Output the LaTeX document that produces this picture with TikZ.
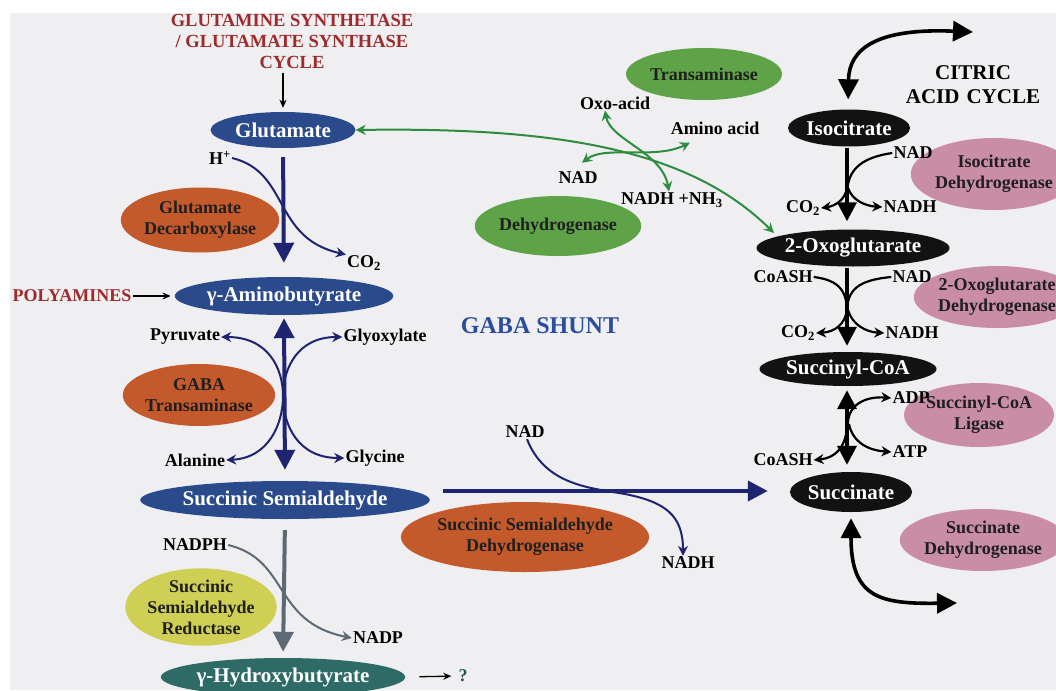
\documentclass[tikz,border=0pt]{standalone}
\usepackage{fontspec}
\setmainfont{Liberation Serif}
\usetikzlibrary{arrows.meta,positioning,shapes.geometric}

\definecolor{bgGray}{HTML}{EFEEF1}
\definecolor{metBlue}{HTML}{2A4A8C}
\definecolor{navyLine}{HTML}{1E2470}
\definecolor{enzOrange}{HTML}{C45A2C}
\definecolor{enzGreen}{HTML}{5EA348}
\definecolor{lineGreen}{HTML}{2E8C40}
\definecolor{enzPink}{HTML}{C98DA5}
\definecolor{enzYellow}{HTML}{CFCF55}
\definecolor{ghbTeal}{HTML}{2F6B66}
\definecolor{slateLine}{HTML}{5D6A76}
\definecolor{titleRed}{HTML}{9E2A2B}
\definecolor{shuntBlue}{HTML}{2A4D9C}

\tikzset{
  met/.style={ellipse,inner sep=0pt,fill=metBlue,text=white,font=\fontsize{21}{23}\selectfont\bfseries},
  tca/.style={met,fill=black!93},
  enz/.style={ellipse,inner sep=0pt,align=center,text=black!88,font=\fontsize{18}{21}\selectfont\bfseries},
  lbl/.style={font=\fontsize{18}{20}\selectfont\bfseries,inner sep=1pt},
  bignavy/.style={draw=navyLine,line width=4pt,-{Triangle[length=20pt,width=20pt]}},
  thinnavy/.style={draw=navyLine,line width=2pt,-{Stealth[length=10pt,width=10pt]}},
  bigblack/.style={draw=black,line width=3.6pt,-{Triangle[length=19pt,width=19pt]}},
  thinblack/.style={draw=black,line width=2.2pt,-{Stealth[length=10pt,width=10pt]}},
  greenln/.style={draw=lineGreen,line width=2pt,{Stealth[length=10pt,width=10pt]}-{Stealth[length=10pt,width=10pt]}},
}

\begin{document}
\begin{tikzpicture}[x=1pt,y=-1pt]
\useasboundingbox (0,0) rectangle (1056,690);
\clip (0,0) rectangle (1056,690);
\fill[white] (0,0) rectangle (1056,690);
\fill[bgGray] (10,13) rectangle (1056,690);

% GABA shunt column
\node[lbl,text=titleRed,align=center,font=\fontsize{18.5}{21}\selectfont\bfseries] (gsgs) at (292,41) {GLUTAMINE SYNTHETASE\\/ GLUTAMATE SYNTHASE\\CYCLE};
\node[met,minimum width=145pt,minimum height=36pt] (glu) at (283,130) {Glutamate};
\node[enz,fill=enzOrange,minimum width=130pt,minimum height=65pt] (gad) at (200,220) {Glutamate\\Decarboxylase};
\node[lbl] (hplus) at (220,158) {H\textsuperscript{+}};
\node[lbl] (co2a) at (364,263) {CO\textsubscript{2}};
\node[met,minimum width=215pt,minimum height=38pt] (gaba) at (284,296) {γ-Aminobutyrate};
\node[lbl,text=titleRed] (poly) at (72,296) {POLYAMINES};
\node[enz,fill=enzOrange,minimum width=132pt,minimum height=62pt] (gabat) at (199,395) {GABA\\Transaminase};
\node[lbl] (pyr) at (185,337) {Pyruvate};
\node[lbl] (glyox) at (385,337) {Glyoxylate};
\node[lbl] (ala) at (195,460) {Alanine};
\node[lbl] (gly) at (375,458) {Glycine};
\node[met,minimum width=255pt,minimum height=38pt] (ssa) at (285,500) {Succinic Semialdehyde};
\node[enz,fill=enzYellow,minimum width=130pt,minimum height=72pt] (ssr) at (201,607) {Succinic\\Semialdehyde\\Reductase};
\node[lbl] (nadph) at (195,545) {NADPH};
\node[lbl] (nadp) at (378,638) {NADP};
\node[met,fill=ghbTeal,minimum width=232pt,minimum height=38pt] (ghb) at (283,677) {γ-Hydroxybutyrate};
\node[lbl,text=ghbTeal!80!black] (qm) at (463,676) {?};
\node[font=\fontsize{24}{26}\selectfont\bfseries,text=shuntBlue] (shunt) at (540,326) {GABA SHUNT};

\draw[black,line width=1.3pt,-{Stealth[length=8pt,width=7pt]},shorten <=4pt,shorten >=4pt] (glu.north |- gsgs.south) -- (glu.north);
\draw[bignavy,shorten <=9pt,shorten >=14pt] (glu.south) -- (gaba.north);
\draw[thinnavy] (hplus.east) .. controls (290,172) and (272,238) .. (co2a.north west);
\draw[black,line width=1.3pt,-{Stealth[length=8pt,width=7pt]},shorten >=4pt] (poly.east) -- (gaba.west);
\draw[navyLine,line width=4pt,{Triangle[length=20pt,width=20pt]}-{Triangle[length=20pt,width=20pt]},shorten <=3pt,shorten >=11pt] (gaba.south) -- (ssa.north);
\draw[thinnavy,{Stealth[length=10pt,width=10pt]}-{Stealth[length=10pt,width=10pt]}] (pyr.east) .. controls (268,337) and (283,368) .. (283,396) .. controls (283,425) and (268,458) .. (ala.east);
\draw[thinnavy,{Stealth[length=10pt,width=10pt]}-{Stealth[length=10pt,width=10pt]}] (glyox.west) .. controls (298,337) and (283,368) .. (283,396) .. controls (283,425) and (298,458) .. (gly.west);
\draw[draw=slateLine,line width=4pt,-{Triangle[length=20pt,width=20pt]},shorten <=11pt,shorten >=6pt] (ssa.south) -- (ghb.north);
\draw[draw=slateLine,line width=2pt,-{Stealth[length=10pt,width=10pt]}] (nadph.east) .. controls (290,560) and (272,622) .. (nadp.west);
\draw[black,line width=1.3pt,-{Stealth[length=8pt,width=7pt]},shorten <=14pt,shorten >=6pt] (ghb.east) -- (qm.west);

% SSA dehydrogenase
\node[enz,fill=enzOrange,minimum width=208pt,minimum height=70pt] (ssadh) at (525,537) {Succinic Semialdehyde\\Dehydrogenase};
\node[lbl] (nadb) at (525,432) {NAD};
\node[lbl] (nadhb) at (688,563) {NADH};
\coordinate (ssdFrom) at (443,491);

% citric acid cycle column
\node[tca,minimum width=122pt,minimum height=37pt] (iso) at (849,128) {Isocitrate};
\node[tca,minimum width=183pt,minimum height=37pt] (oxoglu) at (853,248) {2-Oxoglutarate};
\node[tca,minimum width=177pt,minimum height=34pt] (sucoa) at (848,369) {Succinyl-CoA};
\node[tca,minimum width=122pt,minimum height=40pt] (succ) at (851,492) {Succinate};
\node[font=\fontsize{21}{24}\selectfont\bfseries,align=center] (citric) at (973,85) {CITRIC\\ACID\,\,CYCLE};
\node[enz,fill=enzPink,minimum width=135pt,minimum height=72pt] (icdh) at (994,174) {Isocitrate\\Dehydrogenase};
\node[enz,fill=enzPink,minimum width=140pt,minimum height=62pt] (ogdh) at (997,297) {2-Oxoglutarate\\Dehydrogenase};
\node[enz,fill=enzPink,minimum width=118pt,minimum height=64pt] (scl) at (979,415) {Succinyl-CoA\\Ligase};
\node[enz,fill=enzPink,minimum width=143pt,minimum height=62pt] (sdh) at (983,540) {Succinate\\Dehydrogenase};
\node[lbl] (nadI) at (913,153) {NAD};
\node[lbl] (co2I) at (803,208) {CO\textsubscript{2}};
\node[lbl] (nadhI) at (910,207) {NADH};
\node[lbl] (coashO) at (783,277) {CoASH};
\node[lbl] (nadO) at (912,277) {NAD};
\node[lbl] (co2O) at (798,333) {CO\textsubscript{2}};
\node[lbl] (nadhO) at (912,333) {NADH};
\node[lbl] (adp) at (911,398) {ADP};
\node[lbl] (atp) at (910,452) {ATP};
\node[lbl] (coashS) at (783,460) {CoASH};
\coordinate (cycTop) at (973,32);
\coordinate (cycBot) at (957,603);

\draw[bignavy,shorten >=22pt] (ssdFrom) -- (ssdFrom -| succ.west);
\draw[thinnavy] ([xshift=2pt]nadb.south) .. controls (545,485) and (590,488) .. (625,494) .. controls (665,502) and (683,515) .. ([xshift=-5pt]nadhb.north);

\draw[black,line width=3.6pt,{Triangle[length=20pt,width=20pt]}-{Triangle[length=20pt,width=20pt]},shorten <=10pt] ([xshift=-1pt]iso.north) .. controls (849,48) and (878,28) .. (cycTop);
\draw[bigblack,shorten <=1pt,shorten >=8pt] ([xshift=-2pt]iso.south) -- ([xshift=-6pt]oxoglu.north);
\draw[black,line width=2.2pt] (nadI.west) .. controls (858,158) and (847,172) .. (847,195);
\draw[thinblack] (847,188) .. controls (845,200) and (835,206) .. (co2I.east);
\draw[thinblack] (848,188) .. controls (852,200) and (865,206) .. (nadhI.west);
\draw[bigblack,shorten <=1pt,shorten >=6pt] ([xshift=-6pt]oxoglu.south) -- ([xshift=-1pt]sucoa.north);
\draw[black,line width=2.2pt] (coashO.east) .. controls (838,280) and (847,290) .. (847,312);
\draw[black,line width=2.2pt] (nadO.west) .. controls (858,280) and (847,290) .. (847,312);
\draw[thinblack] (847,310) .. controls (845,324) and (835,332) .. (co2O.east);
\draw[thinblack] (848,310) .. controls (852,324) and (865,332) .. (nadhO.west);
\draw[black,line width=3.6pt,{Triangle[length=19pt,width=19pt]}-{Triangle[length=19pt,width=19pt]},shorten <=4pt,shorten >=7pt] ([xshift=-1pt]sucoa.south) -- ([xshift=-4pt]succ.north);
\draw[thinblack] (848,422) .. controls (849,405) and (865,396) .. (adp.west);
\draw[thinblack] (849,424) .. controls (852,440) and (865,450) .. (atp.west);
\draw[thinblack] (847,428) .. controls (845,448) and (835,458) .. (coashS.east);
\draw[black,line width=3.6pt,{Triangle[length=20pt,width=20pt]}-{Triangle[length=20pt,width=20pt]},shorten <=6pt] (succ.south) .. controls (851,598) and (880,604) .. (cycBot);

% transaminase / dehydrogenase link
\node[enz,fill=enzGreen,minimum width=156pt,minimum height=52pt] (transam) at (704,74) {Transaminase};
\node[enz,fill=enzGreen,minimum width=157pt,minimum height=60pt] (dehyd) at (558,226) {Dehydrogenase};
\node[lbl] (oxoacid) at (615,103) {Oxo-acid};
\node[lbl] (amino) at (715,128) {Amino acid};
\node[lbl] (nadT) at (578,178) {NAD};
\node[lbl] (nadhT) at (672,200) {NADH +NH\textsubscript{3}};
\coordinate (ogIn) at (774,233);

\draw[greenln] (glu.east) .. controls (560,127) and (690,150) .. (ogIn);
\draw[greenln] ([xshift=-10pt]oxoacid.south) .. controls (610,140) and (662,152) .. ([xshift=-3pt]nadhT.north);
\draw[greenln] ([xshift=4pt,yshift=8pt]nadT.north) .. controls (605,145) and (655,160) .. ([xshift=-25pt,yshift=-7pt]amino.south);
\end{tikzpicture}
\end{document}
